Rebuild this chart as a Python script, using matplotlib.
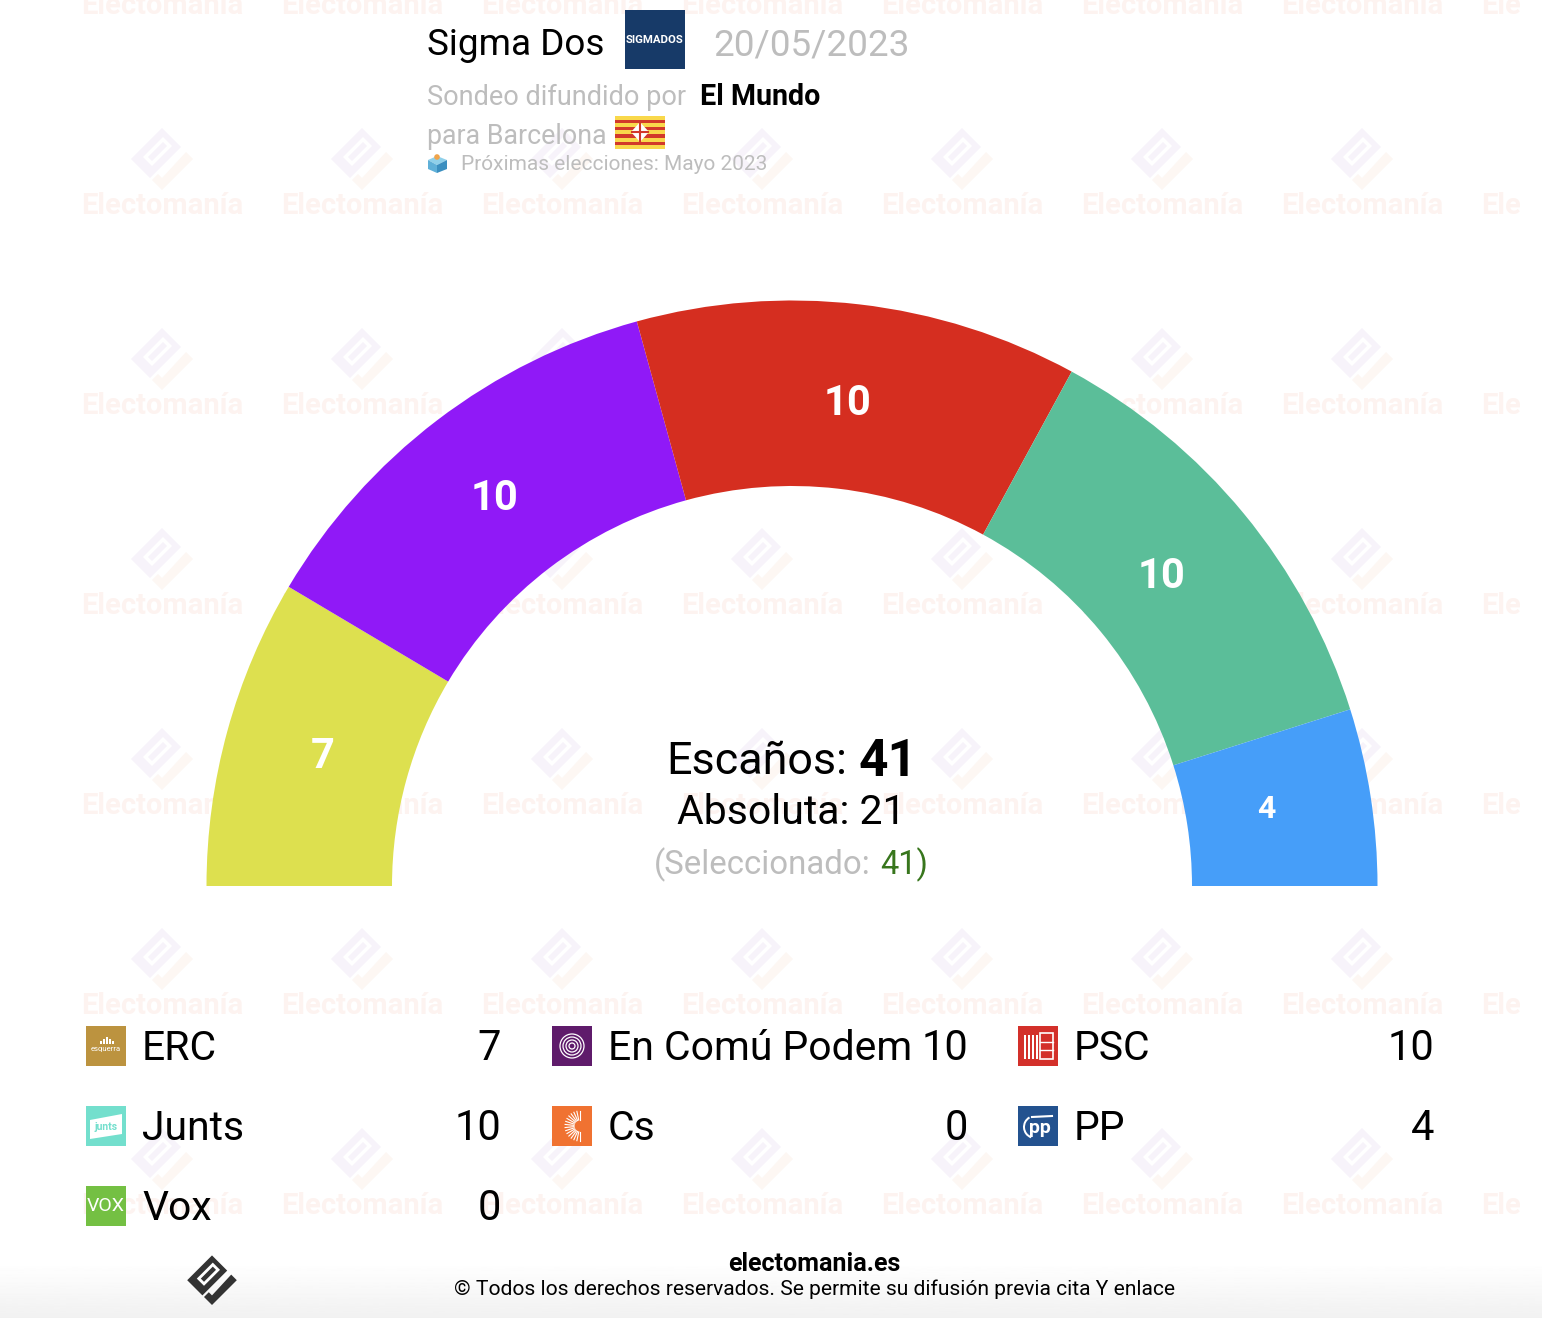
import numpy as np
import matplotlib
matplotlib.use('Agg')
import matplotlib.pyplot as plt
from matplotlib.patches import Polygon, Rectangle, Circle, Wedge

plt.rcParams['font.family'] = ['Roboto', 'DejaVu Sans']

# datos
gauge_parties = ['ERC', 'En Comú Podem', 'PSC', 'Junts', 'PP']
gauge_seats = [7, 10, 10, 10, 4]
gauge_colors = ['#dde04f', '#9019f7', '#d52e20', '#5bbe99', '#469ef9']
label_radius = [487, 490, 486, 479, 480]
label_nudge_y = [0, -2, 0, 5, 4]

legend_col1 = ['ERC', 'Junts', 'Vox']
legend_col1_seats = [7, 10, 0]
legend_col2 = ['En Comú Podem', 'Cs']
legend_col2_seats = [10, 0]
legend_col3 = ['PSC', 'PP']
legend_col3_seats = [10, 4]

total_seats = 41
majority = 21
selected = 41

W, H = 1542, 1318
fig = plt.figure(figsize=(W / 100, H / 100), dpi=100)

# fondo en pixeles
bg = fig.add_axes([0, 0, 1, 1], zorder=0)
bg.set_xlim(0, W)
bg.set_ylim(H, 0)
bg.axis('off')

# degradado abajo
grad = np.linspace(1, 0.945, 64).reshape(-1, 1)
bg.imshow(grad, extent=(0, W, H, 1262), cmap='gray', vmin=0, vmax=1, aspect='auto', zorder=0)
bg.set_xlim(0, W)
bg.set_ylim(H, 0)


def logo(ax, cx, cy, s, c1, c2, c3, z, clip=None):
    def pts(lst):
        return [(cx + s * a, cy + s * b) for a, b in lst]
    shapes = [([(0, -32), (19, -13), (-12, 18), (-31, -1)], c1),
              ([(1, -23), (10, -14), (-10, 6), (-19, -3)], c3),
              ([(1, -18), (5, -14), (-10, 1), (-14, -3)], c1),
              ([(24, -8), (31, -1), (0, 30), (-10, 20), (-4, 14), (0, 18)], c2)]
    for p, c in shapes:
        patch = Polygon(pts(p), fc=c, ec='none', zorder=z)
        ax.add_patch(patch)
        if clip is not None:
            patch.set_clip_path(clip)


# marca de agua, cortada a la derecha
clip = Rectangle((0, 0), 1520, H, transform=bg.transData)
for wy in [4, 204, 404, 604, 804, 1004, 1204]:
    for wx in [162, 362, 562, 762, 962, 1162, 1362, 1562]:
        t = bg.text(wx, wy + 2.5, 'Electomanía', fontsize=21, fontweight='bold', color='#fdf3f0',
                    ha='center', va='center', zorder=1, clip_on=True)
        t.set_clip_path(clip)
        logo(bg, wx, wy - 44, 1, '#f7f3fa', '#fdf7f3', 'white', 1, clip)

# semicirculo
cx, cy, r_out, r_in = 792, 886, 585.5, 400
span = 620
gauge = fig.add_axes([(cx - span) / W, 1 - (cy + span) / H, 2 * span / W, 2 * span / H], zorder=1)
gauge.patch.set_alpha(0)
wedges, _ = gauge.pie(gauge_seats + [sum(gauge_seats)], colors=gauge_colors + ['white'], radius=r_out,
                      startangle=180, counterclock=False, frame=True,
                      wedgeprops={'width': r_out - r_in, 'linewidth': 0})
wedges[-1].set_visible(False)
gauge.set_xlim(-span, span)
gauge.set_ylim(-span, span)
gauge.axis('off')

acc = 0
for v, lr, ny in zip(gauge_seats, label_radius, label_nudge_y):
    ang = np.pi * (1 - (acc + v / 2) / sum(gauge_seats))
    gauge.text(lr * np.cos(ang), lr * np.sin(ang) + ny, str(v), color='white', fontweight='bold',
               fontsize=30 if v > 4 else 23, ha='center', va='center')
    acc += v

# capa de texto
ax = fig.add_axes([0, 0, 1, 1], zorder=2)
ax.set_xlim(0, W)
ax.set_ylim(H, 0)
ax.axis('off')
ax.patch.set_alpha(0)

GRAY = '#bdbdbd'
ax.text(427, 45, 'Sigma Dos', fontsize=26.6, color='black', va='center')
ax.add_patch(Rectangle((625, 10), 60, 59, fc='#173a68', ec='none'))
ax.text(655, 40, 'SIGMADOS', fontsize=8.2, color='white', fontweight='bold', ha='center', va='center')
ax.text(713, 45, '20/05/2023', fontsize=26.6, color=GRAY, va='center')
ax.text(427, 97, 'Sondeo difundido por', fontsize=19.5, color=GRAY, va='center')
ax.text(700, 97, 'El Mundo', fontsize=20.6, color='black', fontweight='bold', va='center')
ax.text(427, 137, 'para Barcelona', fontsize=19.3, color=GRAY, va='center')

# bandera
ax.add_patch(Rectangle((615, 116), 50, 33, fc='#f9d84b', ec='none'))
for sy in [119.5, 126.5, 134, 141.5]:
    ax.add_patch(Rectangle((615, sy), 50, 3.6, fc='#d2392a', ec='none'))
ax.add_patch(Polygon([(640, 122), (649, 132), (640, 142), (631, 132)], fc='white', ec='none'))
ax.plot([640, 640], [123, 141], color='#d2392a', lw=1.5)
ax.plot([632, 648], [132, 132], color='#d2392a', lw=1.5)

# urna
ax.add_patch(Polygon([(428, 160), (437, 156), (447, 160), (437, 165)], fc='#8fd0ea', ec='none'))
ax.add_patch(Polygon([(428, 160), (437, 165), (437, 173), (428, 169)], fc='#5fb0d8', ec='none'))
ax.add_patch(Polygon([(437, 165), (447, 160), (447, 169), (437, 173)], fc='#3b8fc0', ec='none'))
ax.add_patch(Circle((437, 157), 2.8, fc='#f0a44b', ec='none'))
ax.text(461, 165, 'Próximas elecciones: Mayo 2023', fontsize=15.05, color=GRAY, va='center')

# centro
ax.text(666, 762, 'Escaños:', fontsize=32.3, color='black', va='center')
ax.text(859, 762, str(total_seats), fontsize=37, color='black', fontweight='bold', va='center')
ax.text(791.5, 813, 'Absoluta: %d' % majority, fontsize=29.5, color='black', ha='center', va='center')
ax.text(654, 865, '(Seleccionado:', fontsize=23.8, color=GRAY, va='center')
ax.text(880, 865, '%d)' % selected, fontsize=23.5, color='#38761d', va='center')


# iconos de la leyenda
def icon(name, x, y):
    colors = {'ERC': '#bc933f', 'En Comú Podem': '#5f1b6b', 'PSC': '#d3302a', 'Junts': '#73dfcd',
              'Cs': '#f07231', 'PP': '#23528f', 'Vox': '#74c043'}
    ax.add_patch(Rectangle((x, y), 40, 40, fc=colors[name], ec='none'))
    mx, my = x + 20, y + 20
    if name == 'ERC':
        ax.text(mx, my + 3, 'esquerra', fontsize=5.5, color='white', ha='center', va='center')
        for dx, h in [(-5, 3), (-2, 5), (1, 7), (4, 5), (7, 3)]:
            ax.add_patch(Rectangle((mx + dx - 1, my - 2 - h), 1.5, h, fc='white', ec='none'))
    elif name == 'En Comú Podem':
        for rad in [12, 9, 6, 3]:
            ax.add_patch(Circle((mx, my), rad, fc='none', ec='white', lw=0.9))
    elif name == 'PSC':
        for dx in [6, 10, 14, 18]:
            ax.add_patch(Rectangle((x + dx, y + 9), 2, 24, fc='white', ec='none'))
        ax.add_patch(Rectangle((x + 22, y + 7), 13, 26, fc='none', ec='white', lw=1.2))
        ax.plot([x + 22, x + 35], [y + 16, y + 16], color='white', lw=1)
        ax.plot([x + 22, x + 35], [y + 24, y + 24], color='white', lw=1)
    elif name == 'Junts':
        ax.add_patch(Polygon([(x + 4, y + 14), (x + 36, y + 8), (x + 36, y + 28), (x + 4, y + 33)], fc='white', ec='none'))
        ax.text(mx, my + 1, 'junts', fontsize=7.5, color='#73dfcd', fontweight='bold', ha='center', va='center')
    elif name == 'Cs':
        for a in np.radians(np.arange(90, 280, 12)):
            ax.plot([mx + 8 + 6 * np.cos(a), mx + 8 + 15 * np.cos(a)],
                    [my + 6 * np.sin(a), my + 15 * np.sin(a)], color='white', lw=0.8)
    elif name == 'PP':
        ax.text(mx + 2, my + 2, 'pp', fontsize=14, color='white', fontweight='bold', ha='center', va='center')
        ax.add_patch(Wedge((mx - 3, my + 1), 12, 110, 240, width=2, fc='white', ec='none'))
        ax.plot([mx - 6, mx + 14], [my - 9, my - 10], color='white', lw=1.5)
    elif name == 'Vox':
        ax.text(mx, my, 'VOX', fontsize=14, color='white', ha='center', va='center')


def legend_col(names, seats, x_icon, x_val):
    for i, (n, s) in enumerate(zip(names, seats)):
        y = 1046 + 80 * i
        icon(n, x_icon, y - 20)
        ax.text(x_icon + 56, y + 2.5, n, fontsize=29.4, color='black', va='center')
        ax.text(x_val, y + 2.5, str(s), fontsize=30, color='black', ha='right', va='center')


legend_col(legend_col1, legend_col1_seats, 86, 501)
legend_col(legend_col2, legend_col2_seats, 552, 968)
legend_col(legend_col3, legend_col3_seats, 1018, 1434)

# pie
logo(ax, 212, 1281, 0.8, '#333333', '#333333', 'white', 3)
ax.text(814, 1264, 'electomania.es', fontsize=18, color='black', fontweight='bold', ha='center', va='center')
ax.text(814, 1289, '© Todos los derechos reservados. Se permite su difusión previa cita Y enlace',
        fontsize=15.1, color='black', ha='center', va='center')

fig.savefig('out.png', dpi=100)
